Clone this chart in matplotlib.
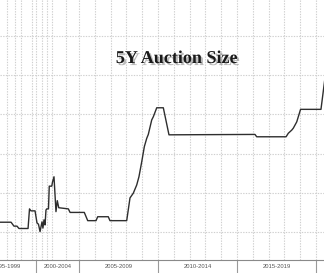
import numpy as np
import matplotlib
matplotlib.use("Agg")
import matplotlib.pyplot as plt
import matplotlib.patheffects as pe

# auction sequence position (monthly auction = 1 step) and size in $bn
auction_pos = [0, 8.4, 10.6, 12.9, 14.4, 21.3, 22.4, 23.5, 26.6, 28.1, 29.2,
               30.4, 31.9, 32.6, 33.4, 34.2, 34.9, 35.5, 36.8, 37.4, 39.3,
               39.9, 41.0, 42.5, 43.5, 44.6, 51.9, 53.2, 64.0, 66.6, 72.9,
               74.2, 82.2, 83.5, 96.2, 98.7, 101.2, 103.8, 105.5, 107.6, 109.6,
               111.4, 112.6, 115.2, 116.4, 119.0, 124.0, 128.3, 193.6, 194.9,
               217.2, 218.9, 221.5, 222.7, 225.3, 228.2, 243.7, 247.0]
auction_size = [12.5, 12.5, 11.5, 11.5, 10.9, 10.9, 15.9, 15.4, 15.4, 12.3, 12.0,
                10.1, 12.6, 11.0, 13.1, 11.8, 15.6, 15.9, 15.9, 21.7, 21.7,
                22.8, 24.1, 15.2, 18.0, 16.2, 15.9, 15.0, 15.0, 12.9, 12.9,
                13.9, 13.9, 12.9, 12.9, 18.7, 19.9, 22.0, 24.1, 27.9, 31.8,
                33.9, 34.9, 38.6, 39.4, 41.7, 41.7, 34.8, 34.9, 34.3,
                34.3, 35.2, 36.0, 36.5, 38.1, 41.3, 41.3, 50.0]

# period blocks on the x axis (start positions) and their labels
block_edges = [-17.5, 27.3, 60, 120, 180, 240]
block_labels = ["1995-1999", "2000-2004", "2005-2009", "2010-2014", "2015-2019"]
year_grid = [5, 11.5, 16, 24.5, 27.3, 32, 35.7, 39.5, 50,
             60, 72, 84, 96, 108, 120, 132, 144, 156, 168,
             180, 192, 204, 216, 228, 240]
size_grid = [10, 20, 30, 40, 50, 60]

fig = plt.figure(figsize=(3.24, 2.73), dpi=100)
ax = fig.add_axes([0, 13 / 273, 1, 260 / 273])

for x in year_grid:
    ax.axvline(x, color="#cfcfcf", linestyle=(0, (1.2, 1.2)), linewidth=0.8, zorder=1)
for y in size_grid:
    ax.axhline(y, color="#cfcfcf", linestyle=(0, (1.2, 1.2)), linewidth=0.8, zorder=1)

ax.plot(auction_pos, auction_size, color="#2e2e2e", linewidth=1.0, zorder=3)

ax.set_xlim(0, 246)
ax.set_ylim(2.86, 69.2)
ax.set_yticks([])

for s in ["top", "left", "right"]:
    ax.spines[s].set_visible(False)
ax.spines["bottom"].set_color("#8a8a8a")
ax.spines["bottom"].set_linewidth(0.8)

# separators between periods as long major ticks, labels on minor ticks
ax.set_xticks(block_edges[1:])
ax.set_xticklabels([])
ax.tick_params(axis="x", which="major", length=10, color="#9a9a9a", width=0.8)
centers = [(a + b) / 2 for a, b in zip(block_edges[:-1], block_edges[1:])]
ax.set_xticks(centers, minor=True)
ax.set_xticklabels(block_labels, minor=True, fontsize=4.2, color="#555555",
                   family="Liberation Sans")
ax.tick_params(axis="x", which="minor", length=0, pad=3)

txt = ax.text(0.545, 0.775, "5Y Auction Size", transform=ax.transAxes,
              ha="center", va="center", fontsize=13, fontweight="bold",
              family="Liberation Serif", color="#1a1a1a")
txt.set_path_effects([pe.withSimplePatchShadow(offset=(1.5, -1.5),
                                               shadow_rgbFace="#777777", alpha=0.5)])

fig.savefig("out.png", dpi=100)
